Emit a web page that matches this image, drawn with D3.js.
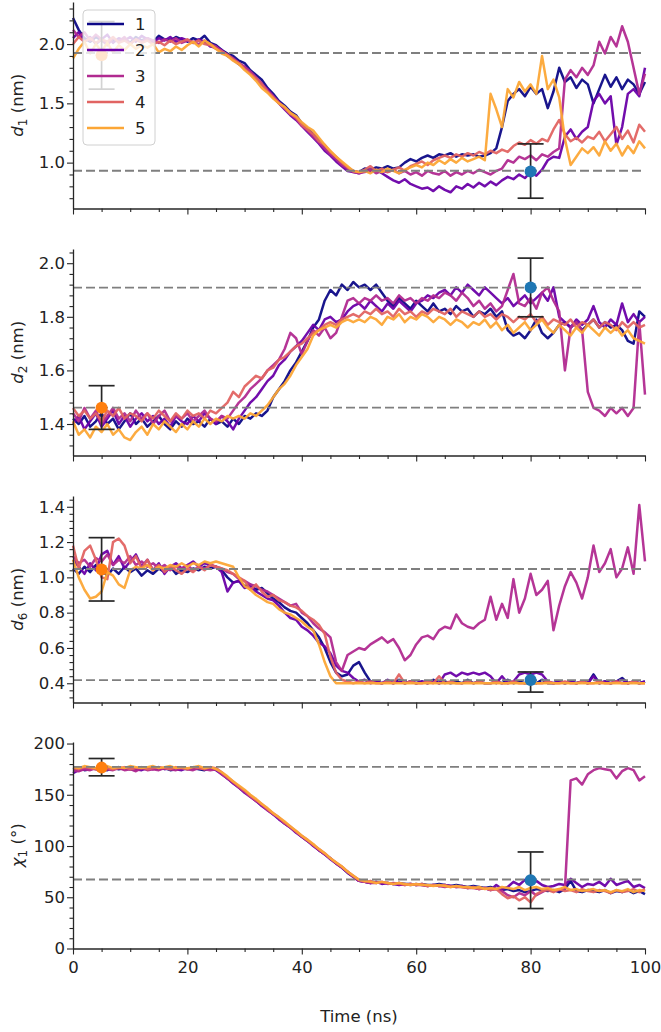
<!DOCTYPE html>
<html>
<head>
<meta charset="utf-8">
<script src="https://cdn.jsdelivr.net/npm/d3@7"></script>
<style>
body { margin: 0; background: #fff; }
text { font-family: "DejaVu Sans", sans-serif; fill: #222; }
</style>
</head>
<body>
<div id="chart"></div>
<script>
// time axis, 1 ns sampling
const timeNs = d3.range(0, 101);

const runLabels = ["1", "2", "3", "4", "5"];
const runColors = ["#0d0887", "#6a00a8", "#b12a90", "#e16462", "#fca636"];

// ---- d1 (nm) ----
const d1Run1 = [2.22,2.12,2.05,2.02,2.06,2.03,2.00,2.04,2.02,2.05,
  2.01,2.06,2.03,2.05,2.02,2.07,2.04,2.03,2.06,2.04,
  2.02,2.05,2.03,2.07,2.01,1.99,1.95,1.92,1.90,1.86,
  1.84,1.78,1.74,1.70,1.63,1.58,1.52,1.48,1.43,1.40,
  1.33,1.29,1.24,1.19,1.14,1.08,1.04,0.99,0.95,0.93,
  0.92,0.95,0.94,0.96,0.95,0.97,0.95,0.96,1.00,1.03,
  1.01,1.04,1.06,1.04,1.07,1.06,1.08,1.05,1.07,1.06,
  1.07,1.05,1.06,1.08,1.12,1.30,1.52,1.58,1.62,1.56,
  1.64,1.58,1.62,1.46,1.60,1.80,1.68,1.72,1.63,1.70,
  1.66,1.50,1.62,1.74,1.64,1.72,1.62,1.70,1.66,1.58,1.68];
const d1Run2 = [2.05,2.10,2.02,2.06,2.00,2.04,2.08,2.01,2.05,2.03,
  2.06,2.02,2.07,2.04,2.01,2.05,2.03,2.06,2.02,2.05,
  2.03,2.01,2.04,2.02,1.98,1.97,1.95,1.90,1.87,1.83,
  1.80,1.76,1.71,1.66,1.62,1.56,1.50,1.45,1.40,1.36,
  1.31,1.26,1.21,1.16,1.10,1.06,1.01,0.97,0.93,0.92,
  0.91,0.93,0.92,0.94,0.91,0.88,0.85,0.83,0.86,0.82,
  0.80,0.78,0.79,0.76,0.80,0.77,0.75,0.80,0.78,0.82,
  0.79,0.83,0.80,0.84,0.81,0.85,0.88,0.86,0.90,0.87,
  0.92,0.89,0.94,1.02,1.05,1.04,1.22,1.28,1.20,1.26,
  1.30,1.52,1.58,1.50,1.56,1.15,1.30,1.58,1.62,1.56,1.80];
const d1Run3 = [2.12,2.06,2.10,2.03,2.08,2.04,1.99,2.05,2.02,2.06,
  2.00,2.04,2.02,2.05,2.03,2.01,2.04,2.02,2.05,2.01,
  2.03,2.02,2.00,2.03,2.00,1.98,1.94,1.91,1.88,1.84,
  1.81,1.77,1.72,1.67,1.61,1.56,1.51,1.46,1.42,1.37,
  1.31,1.27,1.22,1.17,1.12,1.07,1.03,0.98,0.95,0.92,
  0.91,0.92,0.94,0.91,0.93,0.92,0.94,0.91,0.93,0.90,
  0.92,0.89,0.93,0.91,0.90,0.93,0.89,0.92,0.90,0.93,
  0.91,0.94,0.92,0.90,0.93,0.95,1.02,1.00,1.05,1.03,
  1.06,1.02,1.07,1.05,1.09,1.12,1.70,1.78,1.72,1.80,
  1.74,1.82,2.02,1.92,2.06,1.98,2.15,2.02,1.80,1.58,1.75];
const d1Run4 = [2.00,2.06,2.02,2.05,2.01,2.04,2.02,2.06,2.01,2.03,
  2.00,2.04,2.01,2.03,2.00,2.02,1.99,2.03,2.00,2.02,
  2.04,2.01,2.03,2.00,1.99,1.96,1.94,1.91,1.87,1.84,
  1.79,1.75,1.71,1.66,1.60,1.55,1.50,1.46,1.41,1.38,
  1.32,1.28,1.24,1.18,1.15,1.09,1.05,1.00,0.96,0.93,
  0.92,0.94,0.97,0.93,0.95,0.92,0.94,0.96,0.93,0.97,
  0.99,1.01,0.98,1.02,1.04,1.06,1.04,1.07,1.05,1.08,
  1.06,1.09,1.07,1.10,1.08,1.11,1.09,1.14,1.17,1.15,
  1.19,1.16,1.20,1.18,1.28,1.36,1.24,1.18,1.21,1.17,
  1.22,1.20,1.26,1.18,1.24,1.30,1.20,1.27,1.17,1.32,1.26];
const d1Run5 = [1.88,1.96,2.02,1.92,2.00,1.94,2.01,1.93,1.99,1.95,
  2.00,1.96,1.99,1.97,2.00,1.93,1.96,1.94,1.98,1.95,
  1.99,2.02,1.98,2.03,2.00,1.96,1.92,1.90,1.86,1.83,
  1.78,1.74,1.69,1.63,1.59,1.54,1.50,1.47,1.42,1.39,
  1.34,1.30,1.27,1.21,1.15,1.10,1.05,1.01,0.97,0.93,
  0.92,0.93,0.91,0.94,0.92,0.95,0.93,0.91,0.94,0.96,
  0.98,0.96,1.00,0.98,1.02,0.99,1.03,1.00,1.04,1.01,
  1.03,1.05,1.02,1.58,1.45,1.30,1.62,1.55,1.68,1.60,
  1.66,1.58,1.90,1.62,1.70,1.55,1.20,0.98,1.05,1.12,
  1.08,1.13,1.06,1.18,1.10,1.16,1.06,1.14,1.08,1.18,1.12];

// ---- d2 (nm) ----
const d2Run1 = [1.42,1.40,1.43,1.39,1.41,1.44,1.40,1.42,1.38,1.41,
  1.44,1.40,1.42,1.39,1.41,1.43,1.40,1.38,1.41,1.39,
  1.42,1.40,1.41,1.39,1.42,1.40,1.41,1.39,1.42,1.40,
  1.43,1.42,1.44,1.43,1.45,1.50,1.53,1.56,1.60,1.63,
  1.67,1.71,1.76,1.79,1.86,1.90,1.88,1.92,1.90,1.93,
  1.91,1.92,1.90,1.92,1.89,1.86,1.84,1.87,1.85,1.83,
  1.86,1.84,1.82,1.85,1.82,1.83,1.81,1.84,1.82,1.83,
  1.80,1.82,1.81,1.83,1.80,1.82,1.75,1.73,1.74,1.72,
  1.75,1.79,1.74,1.72,1.74,1.77,1.78,1.76,1.78,1.75,
  1.77,1.79,1.76,1.78,1.76,1.77,1.75,1.71,1.70,1.82,1.80];
const d2Run2 = [1.40,1.43,1.38,1.41,1.44,1.39,1.42,1.45,1.40,1.43,
  1.39,1.42,1.44,1.41,1.43,1.40,1.42,1.39,1.43,1.41,
  1.40,1.43,1.41,1.44,1.42,1.40,1.43,1.41,1.38,1.42,
  1.45,1.48,1.50,1.53,1.56,1.58,1.62,1.64,1.67,1.69,
  1.71,1.74,1.77,1.75,1.79,1.80,1.78,1.79,1.82,1.84,
  1.85,1.83,1.86,1.84,1.82,1.85,1.83,1.86,1.84,1.82,
  1.85,1.86,1.88,1.87,1.89,1.90,1.88,1.91,1.89,1.92,
  1.90,1.88,1.91,1.89,1.87,1.85,1.87,1.84,1.86,1.88,
  1.85,1.87,1.89,1.86,1.91,1.80,1.78,1.76,1.79,1.77,
  1.79,1.84,1.78,1.76,1.79,1.77,1.85,1.78,1.81,1.78,1.80];
const d2Run3 = [1.44,1.41,1.46,1.42,1.45,1.40,1.43,1.46,1.42,1.44,
  1.41,1.45,1.42,1.44,1.40,1.43,1.45,1.41,1.43,1.42,
  1.44,1.41,1.43,1.45,1.42,1.41,1.43,1.42,1.45,1.48,
  1.50,1.53,1.55,1.57,1.60,1.62,1.64,1.68,1.74,1.72,
  1.66,1.71,1.75,1.73,1.76,1.72,1.74,1.80,1.86,1.87,
  1.85,1.87,1.86,1.88,1.86,1.87,1.85,1.88,1.86,1.87,
  1.85,1.87,1.86,1.88,1.87,1.89,1.88,1.86,1.89,1.87,
  1.84,1.86,1.83,1.85,1.82,1.84,1.90,1.96,1.85,1.84,
  1.87,1.83,1.89,1.91,1.86,1.82,1.60,1.76,1.78,1.75,
  1.52,1.46,1.45,1.43,1.46,1.44,1.46,1.43,1.46,1.78,1.51];
const d2Run4 = [1.46,1.43,1.45,1.42,1.44,1.41,1.45,1.43,1.46,1.42,
  1.44,1.43,1.41,1.44,1.42,1.45,1.43,1.41,1.44,1.42,
  1.45,1.43,1.44,1.42,1.45,1.44,1.46,1.48,1.52,1.50,
  1.54,1.56,1.58,1.57,1.60,1.61,1.64,1.65,1.67,1.69,
  1.70,1.72,1.74,1.75,1.77,1.78,1.77,1.79,1.80,1.81,
  1.80,1.82,1.81,1.83,1.81,1.82,1.80,1.83,1.81,1.82,
  1.80,1.82,1.81,1.83,1.82,1.81,1.83,1.80,1.82,1.81,
  1.80,1.82,1.80,1.81,1.79,1.81,1.80,1.78,1.80,1.79,
  1.81,1.78,1.80,1.77,1.79,1.78,1.77,1.79,1.76,1.78,
  1.77,1.79,1.76,1.78,1.77,1.75,1.78,1.76,1.78,1.76,1.77];
const d2Run5 = [1.41,1.36,1.38,1.35,1.39,1.37,1.40,1.36,1.38,1.35,
  1.34,1.37,1.39,1.36,1.40,1.38,1.41,1.39,1.37,1.40,
  1.38,1.41,1.39,1.42,1.40,1.42,1.41,1.43,1.42,1.43,
  1.42,1.44,1.43,1.45,1.47,1.50,1.53,1.55,1.58,1.62,
  1.65,1.68,1.73,1.75,1.76,1.77,1.76,1.78,1.79,1.78,
  1.79,1.78,1.80,1.79,1.77,1.80,1.79,1.81,1.78,1.80,
  1.79,1.81,1.80,1.78,1.80,1.79,1.77,1.79,1.78,1.76,
  1.78,1.77,1.79,1.76,1.78,1.75,1.77,1.74,1.76,1.78,
  1.75,1.77,1.79,1.76,1.74,1.77,1.75,1.73,1.76,1.74,
  1.77,1.75,1.73,1.76,1.74,1.76,1.73,1.75,1.72,1.71,1.70];

// ---- d6 (nm) ----
const d6Run1 = [1.05,1.02,1.06,1.03,1.07,1.04,1.01,1.05,1.02,1.06,
  1.03,1.05,1.01,1.04,1.02,1.05,1.03,1.06,1.02,1.04,
  1.03,1.05,1.04,1.06,1.05,1.06,1.04,1.00,0.97,0.98,
  0.95,0.96,0.93,0.94,0.91,0.88,0.86,0.83,0.81,0.80,
  0.77,0.74,0.70,0.66,0.60,0.52,0.46,0.44,0.45,0.50,
  0.52,0.46,0.41,0.41,0.40,0.41,0.40,0.42,0.40,0.41,
  0.40,0.41,0.40,0.42,0.40,0.41,0.40,0.41,0.40,0.42,
  0.40,0.41,0.40,0.40,0.41,0.40,0.42,0.40,0.41,0.40,
  0.41,0.40,0.42,0.40,0.40,0.41,0.40,0.41,0.40,0.41,
  0.40,0.45,0.40,0.41,0.40,0.41,0.43,0.40,0.41,0.40,0.41];
const d6Run2 = [1.10,1.06,1.02,1.08,1.04,1.13,1.15,1.07,1.12,1.05,
  1.09,1.13,1.06,1.10,1.04,1.08,1.02,1.06,1.08,1.05,
  1.07,1.09,1.06,1.08,1.07,1.06,1.03,0.92,0.97,0.98,
  0.94,0.95,0.92,0.90,0.88,0.87,0.84,0.80,0.77,0.76,
  0.72,0.70,0.67,0.63,0.61,0.57,0.50,0.47,0.46,0.43,
  0.41,0.42,0.40,0.41,0.40,0.42,0.40,0.41,0.40,0.41,
  0.40,0.41,0.40,0.41,0.40,0.45,0.46,0.44,0.46,0.45,
  0.46,0.45,0.46,0.44,0.40,0.44,0.40,0.41,0.45,0.46,
  0.45,0.46,0.45,0.41,0.40,0.41,0.40,0.41,0.40,0.41,
  0.40,0.44,0.40,0.41,0.40,0.41,0.42,0.40,0.41,0.40,0.41];
const d6Run3 = [1.12,1.08,1.10,1.06,1.11,1.09,1.13,1.07,1.10,1.08,
  1.12,1.07,1.09,1.06,1.08,1.05,1.07,1.04,1.06,1.05,
  1.07,1.04,1.06,1.05,1.07,1.06,1.05,1.03,1.02,0.99,
  0.98,0.96,0.95,0.93,0.92,0.90,0.88,0.86,0.84,0.85,
  0.80,0.78,0.74,0.71,0.69,0.66,0.52,0.47,0.56,0.58,
  0.60,0.59,0.62,0.64,0.66,0.63,0.65,0.60,0.53,0.56,
  0.62,0.66,0.67,0.65,0.70,0.72,0.71,0.79,0.74,0.72,
  0.71,0.74,0.76,0.89,0.76,0.85,0.77,0.99,0.80,0.88,
  1.02,0.90,0.93,0.98,0.70,0.84,0.95,1.03,0.97,0.88,
  1.00,1.18,1.03,1.08,1.16,1.00,1.05,1.17,1.02,1.41,1.09];
const d6Run4 = [1.18,1.05,1.15,1.18,1.10,1.00,0.99,1.20,1.22,1.18,
  1.08,1.12,1.05,1.10,1.04,1.07,1.03,1.06,1.04,1.02,
  1.05,1.03,1.06,1.04,1.07,1.06,1.05,1.04,1.02,1.00,
  0.98,0.93,0.96,0.92,0.89,0.90,0.87,0.86,0.84,0.83,
  0.81,0.78,0.76,0.73,0.68,0.55,0.46,0.42,0.41,0.40,
  0.41,0.40,0.41,0.40,0.40,0.41,0.40,0.45,0.40,0.41,
  0.40,0.40,0.41,0.40,0.44,0.40,0.41,0.40,0.40,0.41,
  0.40,0.41,0.40,0.40,0.41,0.40,0.40,0.41,0.40,0.40,
  0.41,0.40,0.40,0.41,0.40,0.40,0.41,0.40,0.40,0.41,
  0.40,0.40,0.41,0.40,0.40,0.41,0.40,0.40,0.41,0.40,0.40];
const d6Run5 = [1.10,1.00,0.93,0.88,0.89,0.92,1.03,1.01,0.96,0.94,
  1.04,1.06,1.05,1.07,1.04,1.06,1.05,1.07,1.06,1.08,
  1.06,1.08,1.07,1.09,1.08,1.09,1.08,1.07,1.06,1.00,
  0.95,0.93,0.90,0.88,0.86,0.85,0.82,0.80,0.79,0.77,
  0.75,0.72,0.70,0.62,0.52,0.44,0.40,0.40,0.40,0.40,
  0.40,0.40,0.40,0.40,0.40,0.40,0.40,0.40,0.40,0.40,
  0.40,0.40,0.40,0.40,0.40,0.40,0.40,0.40,0.40,0.40,
  0.40,0.40,0.40,0.40,0.40,0.40,0.40,0.40,0.40,0.40,
  0.40,0.40,0.40,0.40,0.40,0.40,0.40,0.40,0.40,0.40,
  0.40,0.40,0.40,0.40,0.40,0.40,0.40,0.40,0.40,0.40,0.40];

// ---- chi1 (deg) ----
const chiRun1 = [175,176,174,175,176,175,174,176,175,176,
  175,174,176,175,176,175,176,174,175,176,
  175,176,175,174,176,175,171,166,162,157,
  153,149,144,140,136,131,127,122,118,114,
  109,105,101,96,92,88,83,79,74,70,
  66,65,64,65,64,64,63,64,63,63,
  62,63,62,62,63,62,61,62,61,60,
  61,60,59,60,58,57,58,56,57,55,
  56,58,57,56,57,55,58,66,56,55,
  57,56,55,57,54,56,55,57,54,56,53];
const chiRun2 = [171,174,175,176,175,174,176,175,177,175,
  176,175,174,176,175,177,175,176,175,174,
  176,175,177,175,176,174,170,166,161,157,
  152,148,144,139,135,131,126,122,118,113,
  109,105,100,96,92,87,83,79,74,70,
  66,65,64,65,63,64,63,62,63,62,
  63,62,61,62,61,62,61,60,61,59,
  60,58,59,57,62,58,60,65,62,67,
  64,66,62,60,61,63,62,68,64,60,
  63,62,65,61,68,62,64,66,60,62,59];
const chiRun3 = [174,173,175,174,176,173,175,174,176,174,
  175,173,176,174,175,174,176,175,174,176,
  175,174,176,175,174,175,170,166,162,157,
  153,148,144,140,135,131,127,122,118,114,
  109,105,101,96,92,88,83,79,75,70,
  66,65,64,64,65,63,64,63,62,63,
  62,62,61,62,61,60,61,60,60,59,
  59,58,59,57,58,56,52,50,54,52,
  56,52,55,58,56,57,58,164,166,160,
  170,174,176,175,174,166,173,176,174,164,168];
const chiRun4 = [176,175,177,176,175,177,176,175,176,177,
  175,176,177,175,176,177,176,175,177,176,
  175,177,176,175,177,176,172,167,163,158,
  154,149,145,141,136,132,128,123,119,114,
  110,106,101,97,93,88,84,80,75,71,
  67,65,66,64,65,64,63,64,62,63,
  62,63,61,62,61,62,60,61,60,59,
  60,58,59,57,58,53,49,51,47,50,
  45,53,56,57,55,58,56,57,55,58,
  56,55,57,56,54,57,55,56,58,55,58];
const chiRun5 = [177,176,178,177,176,177,178,176,177,176,
  178,177,176,177,178,176,177,178,176,177,
  176,177,178,176,177,175,172,168,163,159,
  155,150,146,141,137,132,128,124,119,115,
  110,106,102,97,93,88,84,80,75,71,
  67,66,65,64,65,64,63,64,63,62,
  63,62,62,61,62,61,60,61,60,60,
  59,60,58,59,58,60,59,58,60,57,
  59,60,58,59,57,58,60,57,58,56,
  57,58,56,57,55,57,56,58,55,57,56];

// reference levels (dashed)
const d1Refs = [1.925, 0.932];
const d2Refs = [1.909, 1.461];
const d6Refs = [1.047, 0.418];
const chiRefs = [177.2, 67.3];

// reference points with error bars, at t = 5 and t = 80 ns
const pointTimes = [5, 80];
const pointColors = ["#ff7f0e", "#1f77b4"];
const d1PtVal = [1.905, 0.925], d1PtLo = [1.62, 0.70], d1PtHi = [2.19, 1.158];
const d2PtVal = [1.461, 1.909], d2PtLo = [1.38, 1.80], d2PtHi = [1.543, 2.019];
const d6PtVal = [1.045, 0.418], d6PtLo = [0.866, 0.35], d6PtHi = [1.225, 0.464];
const chiPtVal = [176.5, 66.6], chiPtLo = [168.5, 39], chiPtHi = [185.4, 94.2];

// tick values
const xMajorTicks = [0, 20, 40, 60, 80, 100];
const d1Ticks = [1.0, 1.5, 2.0];
const d2Ticks = [1.4, 1.6, 1.8, 2.0];
const d6Ticks = [0.4, 0.6, 0.8, 1.0, 1.2, 1.4];
const chiTicks = [0, 50, 100, 150, 200];

// ---------------- layout ----------------
const W = 661, H = 1032;
const left = 73, right = 645;
const panelH = 206.5;
const panelTops = [2, 249, 496, 742];

const svg = d3.select("#chart").append("svg")
  .attr("width", W).attr("height", H)
  .style("background", "#fff");

const x = d3.scaleLinear().domain([0, 100]).range([left, right]);

const panels = [
  { runs: [d1Run1, d1Run2, d1Run3, d1Run4, d1Run5], domain: [0.613, 2.355], ticks: d1Ticks, minorStep: 0.1,
    fmt: d3.format(".1f"), refs: d1Refs, val: d1PtVal, lo: d1PtLo, hi: d1PtHi, sym: "d", sub: "1", unit: " (nm)" },
  { runs: [d2Run1, d2Run2, d2Run3, d2Run4, d2Run5], domain: [1.2825, 2.053], ticks: d2Ticks, minorStep: 0.04,
    fmt: d3.format(".1f"), refs: d2Refs, val: d2PtVal, lo: d2PtLo, hi: d2PtHi, sym: "d", sub: "2", unit: " (nm)" },
  { runs: [d6Run1, d6Run2, d6Run3, d6Run4, d6Run5], domain: [0.291, 1.461], ticks: d6Ticks, minorStep: 0.04,
    fmt: d3.format(".1f"), refs: d6Refs, val: d6PtVal, lo: d6PtLo, hi: d6PtHi, sym: "d", sub: "6", unit: " (nm)" },
  { runs: [chiRun1, chiRun2, chiRun3, chiRun4, chiRun5], domain: [0, 201.5], ticks: chiTicks, minorStep: 10,
    fmt: d3.format("d"), refs: chiRefs, val: chiPtVal, lo: chiPtLo, hi: chiPtHi, sym: "χ", sub: "1", unit: " (°)" }
];

const xMinor = d3.range(0, 101, 5);

panels.forEach((p, pi) => {
  const top = panelTops[pi];
  const bottom = top + panelH;
  const y = d3.scaleLinear().domain(p.domain).range([bottom, top]);
  const g = svg.append("g");

  // series
  const line = d3.line().x((d, i) => x(timeNs[i])).y(d => y(d));
  p.runs.forEach((run, ri) => {
    g.append("path")
      .datum(run)
      .attr("d", line)
      .attr("fill", "none")
      .attr("stroke", runColors[ri])
      .attr("stroke-width", 2.5)
      .attr("stroke-linejoin", "round")
      .attr("opacity", 0.95);
  });

  // dashed reference levels
  g.selectAll(".ref").data(p.refs).enter().append("line")
    .attr("x1", x(0)).attr("x2", x(100))
    .attr("y1", d => y(d)).attr("y2", d => y(d))
    .attr("stroke", "#7f7f7f")
    .attr("stroke-width", 1.9)
    .attr("stroke-dasharray", "9,4");

  // error bars + points
  pointTimes.forEach((t, k) => {
    const cx = x(t);
    const eb = g.append("g").attr("stroke", "#262626").attr("stroke-width", 1.7);
    eb.append("line").attr("x1", cx).attr("x2", cx).attr("y1", y(p.lo[k])).attr("y2", y(p.hi[k]));
    eb.append("line").attr("x1", cx - 13).attr("x2", cx + 13).attr("y1", y(p.lo[k])).attr("y2", y(p.lo[k]));
    eb.append("line").attr("x1", cx - 13).attr("x2", cx + 13).attr("y1", y(p.hi[k])).attr("y2", y(p.hi[k]));
    g.append("circle").attr("cx", cx).attr("cy", y(p.val[k])).attr("r", 6).attr("fill", pointColors[k]);
  });

  // axes
  const yMinor = d3.range(Math.ceil(p.domain[0] / p.minorStep) * p.minorStep, p.domain[1], p.minorStep)
    .filter(v => !p.ticks.some(t => Math.abs(t - v) < 1e-6));

  g.append("g").attr("transform", `translate(${left},0)`)
    .call(d3.axisLeft(y).tickValues(p.ticks).tickFormat(p.fmt).tickSize(6).tickSizeOuter(0).tickPadding(2));
  g.append("g").attr("transform", `translate(${left},0)`)
    .call(d3.axisLeft(y).tickValues(yMinor).tickFormat("").tickSize(3.5).tickSizeOuter(0))
    .select(".domain").remove();

  g.append("g").attr("transform", `translate(0,${bottom})`)
    .call(d3.axisBottom(x).tickValues(xMajorTicks).tickFormat(pi === 3 ? d3.format("d") : "")
      .tickSize(6).tickSizeOuter(0).tickPadding(7));
  g.append("g").attr("transform", `translate(0,${bottom})`)
    .call(d3.axisBottom(x).tickValues(xMinor.filter(v => v % 20 !== 0)).tickFormat("").tickSize(3.5).tickSizeOuter(0))
    .select(".domain").remove();

  g.selectAll(".domain").attr("stroke", "#262626").attr("stroke-width", 1.3);
  g.selectAll(".tick line").attr("stroke", "#262626").attr("stroke-width", 1.1);
  g.selectAll(".tick text").attr("font-size", 16.5).attr("font-family", "DejaVu Sans, sans-serif").attr("fill", "#222");

  // y label
  const lab = svg.append("text")
    .attr("transform", `translate(23,${(top + bottom) / 2}) rotate(-90)`)
    .attr("text-anchor", "middle")
    .attr("font-size", 16.5);
  lab.append("tspan").attr("font-style", "italic").text(p.sym);
  lab.append("tspan").attr("font-size", 12).attr("dy", 4).text(p.sub);
  lab.append("tspan").attr("dy", -4).text(p.unit);
});

// x label
svg.append("text")
  .attr("x", (left + right) / 2)
  .attr("y", 1022)
  .attr("text-anchor", "middle")
  .attr("font-size", 16.5)
  .text("Time (ns)");

// legend (top panel)
const legend = svg.append("g");
legend.append("rect")
  .attr("x", 83).attr("y", 10).attr("width", 72).attr("height", 135)
  .attr("rx", 4)
  .attr("fill", "#fff").attr("fill-opacity", 0.8)
  .attr("stroke", "#d0d0d0").attr("stroke-width", 1);
runLabels.forEach((name, i) => {
  const ly = 24 + i * 26;
  legend.append("line")
    .attr("x1", 87).attr("x2", 124).attr("y1", ly).attr("y2", ly)
    .attr("stroke", runColors[i]).attr("stroke-width", 2.5);
  legend.append("text")
    .attr("x", 135).attr("y", ly).attr("dy", "0.36em")
    .attr("font-size", 16.5)
    .text(name);
});
</script>
</body>
</html>
